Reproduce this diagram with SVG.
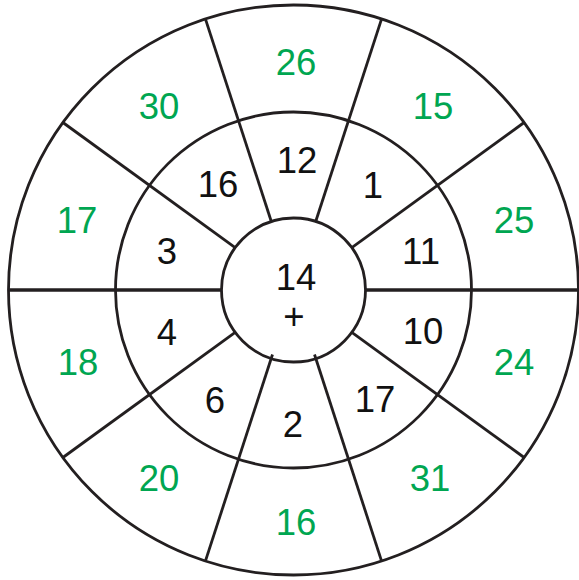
<svg xmlns="http://www.w3.org/2000/svg" width="579" height="580" viewBox="0 0 579 580">
<style>
.ln{fill:none;stroke:#231f20;stroke-width:2.8}
.hz{fill:none;stroke:#231f20;stroke-width:3.3}
text{font-family:"Liberation Sans",Arial,sans-serif;font-size:36.5px;text-anchor:middle}
.g{fill:#00a651}
.k{fill:#111}
</style>
<rect width="579" height="580" fill="#fff"/>
<g id="rings">
<circle class="ln" cx="293.5" cy="290" r="285"/>
<circle class="ln" cx="293.5" cy="290" r="178"/>
<circle class="ln" cx="293.5" cy="290" r="72"/>
</g>
<g id="spokes">
<line class="hz" x1="8.5" y1="290" x2="221.5" y2="290"/>
<line class="hz" x1="365.5" y1="290" x2="578.5" y2="290"/>
<line class="ln" x1="62.9" y1="122.5" x2="235.2" y2="247.7"/>
<line class="ln" x1="205.4" y1="18.9" x2="271.3" y2="221.5"/>
<line class="ln" x1="381.6" y1="18.9" x2="315.7" y2="221.5"/>
<line class="ln" x1="524.1" y1="122.5" x2="351.8" y2="247.7"/>
<line class="ln" x1="524.1" y1="457.5" x2="351.8" y2="332.3"/>
<line class="ln" x1="381.6" y1="561.1" x2="314.5" y2="354.5"/>
<line class="ln" x1="205.4" y1="561.1" x2="272.5" y2="354.5"/>
<line class="ln" x1="62.9" y1="457.5" x2="235.2" y2="332.3"/>
</g>
<g id="outer-ring">
<text class="g" x="296" y="75">26</text>
<text class="g" x="433" y="119">15</text>
<text class="g" x="514" y="233">25</text>
<text class="g" x="514" y="375">24</text>
<text class="g" x="430" y="491">31</text>
<text class="g" x="296" y="535">16</text>
<text class="g" x="159" y="491">20</text>
<text class="g" x="78" y="375">18</text>
<text class="g" x="77" y="233">17</text>
<text class="g" x="159" y="119">30</text>
</g>
<g id="inner-ring">
<text class="k" x="297" y="173">12</text>
<text class="k" x="373" y="198">1</text>
<text class="k" x="421" y="264">11</text>
<text class="k" x="423" y="344">10</text>
<text class="k" x="375" y="412">17</text>
<text class="k" x="293" y="437">2</text>
<text class="k" x="215" y="413">6</text>
<text class="k" x="167" y="345">4</text>
<text class="k" x="167" y="264">3</text>
<text class="k" x="218" y="197">16</text>
</g>
<g id="center">
<text class="k" x="296" y="290">14</text>
<text class="k" x="294" y="329">+</text>
</g>
</svg>
